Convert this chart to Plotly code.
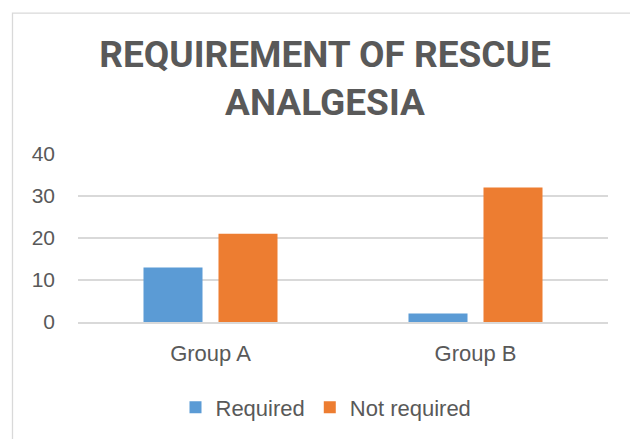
import plotly.graph_objects as go

categories = ["Group A", "Group B"]
required = [13, 2]
not_required = [21, 32]
series_names = ["Required", "Not required"]
title_text = "REQUIREMENT OF RESCUE<br>ANALGESIA"

# the page body has an 8px margin, so the figure is offset by 8px
OFF = 8
W, H = 638 - OFF, 439 - OFF
L, R, T = 70, 30, 146
B = H - 314.7
pw, ph = W - L - R, H - T - B

def px_x(x):
    return (x - OFF - L) / pw

def px_y(y):
    return (H - B - (y - OFF)) / ph

fig = go.Figure()
fig.add_trace(go.Bar(x=categories, y=required, name=series_names[0],
                     marker=dict(color="#5B9BD5", line=dict(width=0))))
fig.add_trace(go.Bar(x=categories, y=not_required, name=series_names[1],
                     marker=dict(color="#ED7D31", line=dict(width=0))))

txt = "#595959"
fs = 21
fig.update_layout(
    width=W, height=H,
    margin=dict(l=L, r=R, t=T, b=B),
    paper_bgcolor="white", plot_bgcolor="white",
    barmode="group", bargap=0.434, bargroupgap=0.213,
    title=dict(text=title_text, x=(325 - OFF) / W, xref="container", xanchor="center",
               y=1 - (67 - OFF) / H, yref="container", yanchor="middle",
               font=dict(family="Roboto, Arial", size=37, color=txt, weight="bold")),
    font=dict(family="Liberation Sans, Arial", size=fs, color=txt),
    showlegend=True,
    legend=dict(orientation="h", x=px_x(326), xanchor="center", y=px_y(407), yanchor="middle",
                font=dict(size=fs + 1, color=txt), traceorder="normal"),
    yaxis=dict(range=[0, 40], dtick=10, showgrid=True, gridcolor="#D9D9D9", gridwidth=1.5,
               zeroline=False, showline=False, ticks="", ticklabelstandoff=22,
               tickfont=dict(size=fs, color=txt), fixedrange=True),
    xaxis=dict(showline=True, linecolor="#D9D9D9", linewidth=1.5, ticks="",
               ticklabelstandoff=11, tickfont=dict(size=fs + 1, color=txt)),
    shapes=[dict(type="rect", xref="paper", yref="paper",
                 x0=px_x(12.5), x1=px_x(636.5), y0=px_y(470), y1=px_y(12.5),
                 line=dict(color="#D9D9D9", width=1.3), layer="below")],
)

fig.write_html("out.html")
